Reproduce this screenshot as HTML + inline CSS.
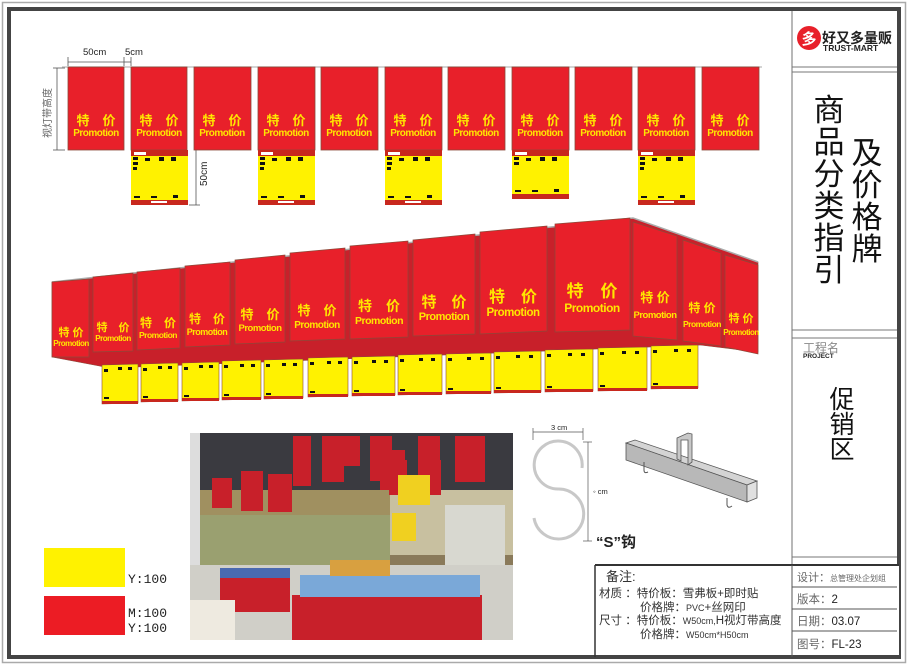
<!DOCTYPE html>
<html><head><meta charset="utf-8"><style>
html,body{margin:0;padding:0;background:#fff}
svg{display:block}
text{font-family:"Liberation Sans","Noto Sans CJK SC",sans-serif}
</style></head><body>
<svg width="908" height="666" viewBox="0 0 908 666" xmlns="http://www.w3.org/2000/svg">
<rect x="0" y="0" width="908" height="666" fill="#fff"/>
<rect x="2.5" y="2.5" width="903" height="660" fill="none" stroke="#aaa" stroke-width="1.5"/>
<rect x="9" y="9" width="890" height="648" fill="none" stroke="#444" stroke-width="4"/>

<!-- right panel -->
<line x1="792" y1="11" x2="792" y2="565" stroke="#888" stroke-width="1.2"/>
<line x1="792" y1="67" x2="897" y2="67" stroke="#777"/>
<line x1="792" y1="72" x2="897" y2="72" stroke="#777"/>
<line x1="792" y1="330" x2="897" y2="330" stroke="#777"/>
<line x1="792" y1="338" x2="897" y2="338" stroke="#777"/>
<line x1="792" y1="557" x2="897" y2="557" stroke="#777"/>
<circle cx="809" cy="38" r="12" fill="#e8202a"/>
<text x="809" y="44" font-size="15" font-weight="bold" fill="#fff" text-anchor="middle">多</text>
<text x="822" y="43" font-size="14" font-weight="bold" fill="#222">好又多量贩</text>
<text x="823" y="51" font-size="8.5" font-weight="bold" fill="#222">TRUST-MART</text>
<g font-size="31" fill="#111" text-anchor="middle">
<text x="829" y="121">商</text><text x="829" y="153">品</text><text x="829" y="185">分</text>
<text x="829" y="217">类</text><text x="829" y="249">指</text><text x="829" y="281">引</text>
<text x="867" y="164">及</text><text x="867" y="196">价</text><text x="867" y="228">格</text><text x="867" y="260">牌</text>
</g>
<text x="803" y="352" font-size="12" fill="#888">工程名</text>
<text x="803" y="358" font-size="6.5" font-weight="bold" fill="#222">PROJECT</text>
<g font-size="25" fill="#111" text-anchor="middle">
<text x="842" y="408">促</text><text x="842" y="433">销</text><text x="842" y="458">区</text>
</g>

<!-- bottom table -->
<rect x="595" y="565" width="304" height="90" fill="#fff"/>
<line x1="595" y1="565" x2="899" y2="565" stroke="#333" stroke-width="2"/>
<line x1="595" y1="565" x2="595" y2="657" stroke="#333" stroke-width="1.5"/>
<line x1="792" y1="565" x2="792" y2="657" stroke="#555"/>
<line x1="792" y1="587" x2="897" y2="587" stroke="#555"/>
<line x1="792" y1="609" x2="897" y2="609" stroke="#555"/>
<line x1="792" y1="631" x2="897" y2="631" stroke="#555"/>
<g fill="#333">
<text x="606" y="581" font-size="13">备注:</text>
<text x="599" y="597" font-size="11.5">材质 ：特价板：雪弗板+即时贴</text>
<text x="640" y="611" font-size="11.5">价格牌：<tspan font-size="9">PVC</tspan>+丝网印</text>
<text x="599" y="624" font-size="11.5">尺寸 ：特价板：<tspan font-size="9">W50cm,</tspan>H视灯带高度</text>
<text x="640" y="638" font-size="11.5">价格牌：<tspan font-size="9">W50cm*H50cm</tspan></text>
<text x="797" y="581" font-size="11" fill="#666">设计：<tspan font-size="8">总管理处企划组</tspan></text>
<text x="797" y="603" font-size="11.5" fill="#666">版本：<tspan fill="#222">2</tspan></text>
<text x="797" y="625" font-size="11.5" fill="#666">日期：<tspan fill="#222">03.07</tspan></text>
<text x="797" y="648" font-size="11.5" fill="#666">图号：<tspan fill="#222">FL-23</tspan></text>
</g>

<!-- swatches -->
<rect x="44" y="548" width="81" height="39" fill="#fff200"/>
<rect x="44" y="596" width="81" height="39" fill="#ec1c24"/>
<g font-size="13" fill="#222">
<text x="128" y="583" style="font-family:'Liberation Mono',monospace">Y:100</text>
<text x="128" y="617" style="font-family:'Liberation Mono',monospace">M:100</text>
<text x="128" y="632" style="font-family:'Liberation Mono',monospace">Y:100</text>
</g>

<!-- dimensions top -->
<line x1="68" y1="62" x2="124" y2="62" stroke="#555" stroke-width="0.8"/>
<line x1="68" y1="57" x2="68" y2="66" stroke="#555" stroke-width="0.8"/>
<line x1="124" y1="57" x2="124" y2="66" stroke="#555" stroke-width="0.8"/>
<line x1="131" y1="57" x2="131" y2="66" stroke="#555" stroke-width="0.8"/>
<line x1="124" y1="62" x2="131" y2="62" stroke="#555" stroke-width="0.8"/>
<text x="83" y="55" font-size="9.5" fill="#222">50cm</text>
<text x="125" y="55" font-size="9.5" fill="#222">5cm</text>
<line x1="62" y1="67" x2="762" y2="67" stroke="#bbb" stroke-width="1.2"/>
<line x1="57" y1="68" x2="57" y2="150" stroke="#555" stroke-width="0.8"/>
<line x1="53" y1="68" x2="65" y2="68" stroke="#555" stroke-width="0.8"/>
<line x1="53" y1="150" x2="65" y2="150" stroke="#555" stroke-width="0.8"/>
<text transform="translate(51,138) rotate(-90)" font-size="10" fill="#666">视灯带高度</text>
<line x1="196" y1="150" x2="196" y2="205" stroke="#555" stroke-width="0.8"/>
<line x1="189" y1="205" x2="200" y2="205" stroke="#555" stroke-width="0.8"/>
<text transform="translate(207,186) rotate(-90)" font-size="10" fill="#222">50cm</text>

<!-- top row banners -->
<g stroke="#8a4a3a" stroke-width="0.8" fill="#e8202a">
<rect x="68" y="67" width="56" height="83"/><rect x="131" y="67" width="56" height="83"/>
<rect x="194" y="67" width="57" height="83"/><rect x="258" y="67" width="57" height="83"/>
<rect x="321" y="67" width="57" height="83"/><rect x="385" y="67" width="57" height="83"/>
<rect x="448" y="67" width="57" height="83"/><rect x="512" y="67" width="57" height="83"/>
<rect x="575" y="67" width="57" height="83"/><rect x="638" y="67" width="57" height="83"/>
<rect x="702" y="67" width="57" height="83"/>
</g>
<g fill="#ffe600" font-weight="bold" text-anchor="middle">
<g font-size="13">
<text x="96" y="125">特　价</text><text x="159" y="125">特　价</text><text x="222" y="125">特　价</text>
<text x="286" y="125">特　价</text><text x="349" y="125">特　价</text><text x="413" y="125">特　价</text>
<text x="476" y="125">特　价</text><text x="540" y="125">特　价</text><text x="603" y="125">特　价</text>
<text x="666" y="125">特　价</text><text x="730" y="125">特　价</text>
</g>
<g font-size="10" letter-spacing="-0.5">
<text x="96" y="136">Promotion</text><text x="159" y="136">Promotion</text><text x="222" y="136">Promotion</text>
<text x="286" y="136">Promotion</text><text x="349" y="136">Promotion</text><text x="413" y="136">Promotion</text>
<text x="476" y="136">Promotion</text><text x="540" y="136">Promotion</text><text x="603" y="136">Promotion</text>
<text x="666" y="136">Promotion</text><text x="730" y="136">Promotion</text>
</g>
</g>
<!-- price boards -->
<g>
<g transform="translate(131,150)"><rect width="57" height="55" fill="#c8281e"/><rect y="6" width="57" height="44" fill="#fff200"/><rect x="3" y="2" width="12" height="3" fill="#fff"/><rect x="20" y="51" width="16" height="2" fill="#fff"/><g fill="#111"><rect x="2" y="7" width="5" height="3"/><rect x="2" y="12" width="5" height="3"/><rect x="2" y="17" width="4" height="3"/><rect x="14" y="8" width="5" height="3"/><rect x="28" y="7" width="5" height="4"/><rect x="40" y="7" width="5" height="4"/><rect x="3" y="46" width="6" height="2"/><rect x="20" y="46" width="6" height="2"/><rect x="42" y="45" width="5" height="3"/></g></g>
<g transform="translate(258,150)"><rect width="57" height="55" fill="#c8281e"/><rect y="6" width="57" height="44" fill="#fff200"/><rect x="3" y="2" width="12" height="3" fill="#fff"/><rect x="20" y="51" width="16" height="2" fill="#fff"/><g fill="#111"><rect x="2" y="7" width="5" height="3"/><rect x="2" y="12" width="5" height="3"/><rect x="2" y="17" width="4" height="3"/><rect x="14" y="8" width="5" height="3"/><rect x="28" y="7" width="5" height="4"/><rect x="40" y="7" width="5" height="4"/><rect x="3" y="46" width="6" height="2"/><rect x="20" y="46" width="6" height="2"/><rect x="42" y="45" width="5" height="3"/></g></g>
<g transform="translate(385,150)"><rect width="57" height="55" fill="#c8281e"/><rect y="6" width="57" height="44" fill="#fff200"/><rect x="3" y="2" width="12" height="3" fill="#fff"/><rect x="20" y="51" width="16" height="2" fill="#fff"/><g fill="#111"><rect x="2" y="7" width="5" height="3"/><rect x="2" y="12" width="5" height="3"/><rect x="2" y="17" width="4" height="3"/><rect x="14" y="8" width="5" height="3"/><rect x="28" y="7" width="5" height="4"/><rect x="40" y="7" width="5" height="4"/><rect x="3" y="46" width="6" height="2"/><rect x="20" y="46" width="6" height="2"/><rect x="42" y="45" width="5" height="3"/></g></g>
<g transform="translate(512,150)"><rect width="57" height="49" fill="#c8281e"/><rect y="6" width="57" height="38" fill="#fff200"/><rect x="3" y="2" width="12" height="3" fill="#fff"/><g fill="#111"><rect x="2" y="7" width="5" height="3"/><rect x="2" y="12" width="5" height="3"/><rect x="14" y="8" width="5" height="3"/><rect x="28" y="7" width="5" height="4"/><rect x="40" y="7" width="5" height="4"/><rect x="3" y="40" width="6" height="2"/><rect x="20" y="40" width="6" height="2"/><rect x="42" y="39" width="5" height="3"/></g></g>
<g transform="translate(638,150)"><rect width="57" height="55" fill="#c8281e"/><rect y="6" width="57" height="44" fill="#fff200"/><rect x="3" y="2" width="12" height="3" fill="#fff"/><rect x="20" y="51" width="16" height="2" fill="#fff"/><g fill="#111"><rect x="2" y="7" width="5" height="3"/><rect x="2" y="12" width="5" height="3"/><rect x="2" y="17" width="4" height="3"/><rect x="14" y="8" width="5" height="3"/><rect x="28" y="7" width="5" height="4"/><rect x="40" y="7" width="5" height="4"/><rect x="3" y="46" width="6" height="2"/><rect x="20" y="46" width="6" height="2"/><rect x="42" y="45" width="5" height="3"/></g></g>
</g>

<!-- perspective: back strip -->
<polygon points="52,282 633,218 758,262 758,352 700,345 110,368 52,357" fill="#c8202a" stroke="#8a4a3a" stroke-width="0.6"/>
<polyline points="52,282 633,218 758,262" fill="none" stroke="#aaa" stroke-width="1.5"/>
<!-- yellow boards -->
<g stroke="#8a4a3a" stroke-width="0.6">
<polygon points="102,365 138,364 138,403 102,404" fill="#fff200"/>
<polygon points="141,364 178,363 178,401 141,402" fill="#fff200"/>
<polygon points="182,363 219,362 219,400 182,401" fill="#fff200"/>
<polygon points="222,361 261,360 261,399 222,400" fill="#fff200"/>
<polygon points="264,360 303,359 303,398 264,399" fill="#fff200"/>
<polygon points="308,358 348,357 348,396 308,397" fill="#fff200"/>
<polygon points="352,357 395,356 395,395 352,396" fill="#fff200"/>
<polygon points="398,355 442,354 442,394 398,395" fill="#fff200"/>
<polygon points="446,354 491,353 491,393 446,394" fill="#fff200"/>
<polygon points="494,352 541,351 541,392 494,393" fill="#fff200"/>
<polygon points="545,350 593,349 593,391 545,392" fill="#fff200"/>
<polygon points="598,348 647,347 647,390 598,391" fill="#fff200"/>
<polygon points="651,346 698,345 698,388 651,389" fill="#fff200"/>
</g>
<g fill="#c8281e">
<rect x="102" y="401" width="36" height="3"/><rect x="141" y="399" width="37" height="3"/><rect x="182" y="398" width="37" height="3"/><rect x="222" y="397" width="39" height="3"/><rect x="264" y="396" width="39" height="3"/><rect x="308" y="394" width="40" height="3"/><rect x="352" y="393" width="43" height="3"/><rect x="398" y="392" width="44" height="3"/><rect x="446" y="391" width="45" height="3"/><rect x="494" y="390" width="47" height="3"/><rect x="545" y="389" width="48" height="3"/><rect x="598" y="388" width="49" height="3"/><rect x="651" y="386" width="47" height="3"/>
</g>
<g fill="#111">
<rect x="104" y="369" width="4" height="3"/><rect x="118" y="367" width="4" height="3"/><rect x="128" y="367" width="4" height="3"/><rect x="104" y="397" width="5" height="2"/>
<rect x="143" y="368" width="4" height="3"/><rect x="158" y="366" width="4" height="3"/><rect x="168" y="366" width="4" height="3"/><rect x="143" y="396" width="5" height="2"/>
<rect x="184" y="367" width="4" height="3"/><rect x="199" y="365" width="4" height="3"/><rect x="209" y="365" width="4" height="3"/><rect x="184" y="395" width="5" height="2"/>
<rect x="224" y="365" width="4" height="3"/><rect x="240" y="364" width="4" height="3"/><rect x="251" y="364" width="4" height="3"/><rect x="224" y="394" width="5" height="2"/>
<rect x="266" y="364" width="4" height="3"/><rect x="282" y="363" width="4" height="3"/><rect x="293" y="363" width="4" height="3"/><rect x="266" y="393" width="5" height="2"/>
<rect x="310" y="362" width="4" height="3"/><rect x="327" y="361" width="4" height="3"/><rect x="338" y="361" width="4" height="3"/><rect x="310" y="391" width="5" height="2"/>
<rect x="354" y="361" width="4" height="3"/><rect x="372" y="360" width="4" height="3"/><rect x="384" y="360" width="4" height="3"/><rect x="354" y="390" width="5" height="2"/>
<rect x="400" y="359" width="4" height="3"/><rect x="419" y="358" width="4" height="3"/><rect x="431" y="358" width="4" height="3"/><rect x="400" y="389" width="5" height="2"/>
<rect x="448" y="358" width="4" height="3"/><rect x="467" y="357" width="4" height="3"/><rect x="480" y="357" width="4" height="3"/><rect x="448" y="388" width="5" height="2"/>
<rect x="496" y="356" width="4" height="3"/><rect x="516" y="355" width="4" height="3"/><rect x="529" y="355" width="4" height="3"/><rect x="496" y="387" width="5" height="2"/>
<rect x="547" y="354" width="4" height="3"/><rect x="568" y="353" width="4" height="3"/><rect x="581" y="353" width="4" height="3"/><rect x="547" y="386" width="5" height="2"/>
<rect x="600" y="352" width="4" height="3"/><rect x="622" y="351" width="4" height="3"/><rect x="635" y="351" width="4" height="3"/><rect x="600" y="385" width="5" height="2"/>
<rect x="653" y="350" width="4" height="3"/><rect x="674" y="349" width="4" height="3"/><rect x="687" y="349" width="4" height="3"/><rect x="653" y="383" width="5" height="2"/>
</g>
<!-- front red banners -->
<g fill="#e8202a" stroke="#8a4a3a" stroke-width="0.7">
<polygon points="52,282 89,279 89,357 52,357"/>
<polygon points="93,277 133,273 133,351 93,352"/>
<polygon points="137,272 180,268 180,348 137,350"/>
<polygon points="185,266 230,262 230,345 185,347"/>
<polygon points="235,260 285,255 285,342 235,344"/>
<polygon points="290,253 345,248 345,339 290,341"/>
<polygon points="350,246 408,241 408,337 350,339"/>
<polygon points="413,240 475,234 475,334 413,336"/>
<polygon points="480,232 547,226 547,331 480,334"/>
<polygon points="555,224 630,218 630,330 555,332"/>
<polygon points="633,222 677,236 677,340 633,336"/>
<polygon points="683,240 721,253 721,346 683,341"/>
<polygon points="725,255 758,265 758,354 725,347"/>
</g>
<g fill="#ffe600" font-weight="bold" text-anchor="middle">
<text x="71" y="336" font-size="11">特 价</text><text x="71" y="346" font-size="8" letter-spacing="-0.5">Promotion</text>
<text x="113" y="331" font-size="11">特　价</text><text x="113" y="341" font-size="8" letter-spacing="-0.5">Promotion</text>
<text x="158" y="327" font-size="12">特　价</text><text x="158" y="338" font-size="8.5" letter-spacing="-0.5">Promotion</text>
<text x="207" y="323" font-size="12">特　价</text><text x="207" y="335" font-size="9" letter-spacing="-0.5">Promotion</text>
<text x="260" y="319" font-size="13">特　价</text><text x="260" y="331" font-size="9.5" letter-spacing="-0.5">Promotion</text>
<text x="317" y="315" font-size="13">特　价</text><text x="317" y="328" font-size="10" letter-spacing="-0.5">Promotion</text>
<text x="379" y="311" font-size="14">特　价</text><text x="379" y="324" font-size="10.5" letter-spacing="-0.5">Promotion</text>
<text x="444" y="307" font-size="15">特　价</text><text x="444" y="320" font-size="11" letter-spacing="-0.5">Promotion</text>
<text x="513" y="302" font-size="16">特　价</text><text x="513" y="316" font-size="11.5" letter-spacing="-0.5">Promotion</text>
<text x="592" y="297" font-size="17">特　价</text><text x="592" y="312" font-size="12" letter-spacing="-0.5">Promotion</text>
<text x="655" y="302" font-size="13">特 价</text><text x="655" y="318" font-size="9.5" letter-spacing="-0.5">Promotion</text>
<text x="702" y="312" font-size="12">特 价</text><text x="702" y="327" font-size="8.5" letter-spacing="-0.5">Promotion</text>
<text x="741" y="322" font-size="11">特 价</text><text x="741" y="335" font-size="8" letter-spacing="-0.5">Promotion</text>
</g>

<!-- photo -->
<g>
<rect x="190" y="433" width="323" height="207" fill="#8a7a5a"/>
<rect x="190" y="433" width="323" height="80" fill="#3a3a40"/>
<rect x="190" y="490" width="323" height="60" fill="#a09060"/>
<rect x="390" y="490" width="123" height="65" fill="#c8c0a0"/>
<rect x="445" y="505" width="60" height="60" fill="#d8d8d0"/>
<rect x="190" y="515" width="200" height="50" fill="#9aa070"/>
<rect x="190" y="433" width="10" height="207" fill="#ddd"/>
<rect x="190" y="565" width="323" height="75" fill="#d0cfc8"/>
<g fill="#c8202a">
<rect x="293" y="436" width="18" height="50"/><rect x="322" y="436" width="22" height="46"/><rect x="338" y="436" width="22" height="30"/><rect x="370" y="436" width="22" height="45"/><rect x="418" y="436" width="22" height="42"/><rect x="455" y="436" width="30" height="46"/><rect x="389" y="460" width="18" height="35"/><rect x="424" y="460" width="17" height="35"/><rect x="380" y="450" width="25" height="40"/><rect x="241" y="471" width="22" height="40"/><rect x="268" y="474" width="24" height="38"/><rect x="212" y="478" width="20" height="30"/>
<rect x="220" y="577" width="70" height="35"/><rect x="292" y="595" width="190" height="45"/>
</g>
<rect x="398" y="475" width="32" height="30" fill="#f0d020"/>
<rect x="392" y="513" width="24" height="28" fill="#f0d020"/>
<rect x="300" y="575" width="180" height="22" fill="#7aa8d8"/>
<rect x="220" y="568" width="70" height="10" fill="#4a6ab0"/>
<rect x="330" y="560" width="60" height="16" fill="#d8a040"/>
<rect x="190" y="600" width="45" height="40" fill="#eeeae0"/>
</g>

<!-- S hook -->
<path d="M582,468 A24,24 0 1 0 558,489 A25,25 0 1 1 534,518" fill="none" stroke="#c8c8c8" stroke-width="3"/>
<line x1="533" y1="432" x2="583" y2="432" stroke="#555" stroke-width="0.7"/>
<line x1="533" y1="428" x2="533" y2="440" stroke="#555" stroke-width="0.7"/>
<line x1="583" y1="428" x2="583" y2="440" stroke="#555" stroke-width="0.7"/>
<text x="551" y="430" font-size="7.5" fill="#222">3 cm</text>
<line x1="588" y1="442" x2="588" y2="541" stroke="#555" stroke-width="0.7"/>
<line x1="583" y1="442" x2="592" y2="442" stroke="#555" stroke-width="0.7"/>
<line x1="583" y1="541" x2="592" y2="541" stroke="#555" stroke-width="0.7"/>
<text x="593" y="494" font-size="7.5" fill="#222">◦ cm</text>
<text x="596" y="547" font-size="15" font-weight="bold" fill="#222">“S”钩</text>

<!-- rail -->
<g stroke="#555" stroke-width="0.8">
<polygon points="626,443 635,440 757,481 747,485" fill="#d4d4d4"/>
<polygon points="626,443 747,485 747,502 626,460" fill="#b8b8b8"/>
<polygon points="747,485 757,481 757,498 747,502" fill="#e0e0e0"/>
<polygon points="677,438 688,433 692,434 692,462 688,465 688,440 681,440 681,461 677,459" fill="#c8c8c8"/>
</g>
<path d="M644,462 L644,470 Q644,474 648,472" fill="none" stroke="#555" stroke-width="1"/>
<path d="M727,498 L727,505 Q728,509 732,506" fill="none" stroke="#555" stroke-width="1"/>
</svg>
</body></html>
